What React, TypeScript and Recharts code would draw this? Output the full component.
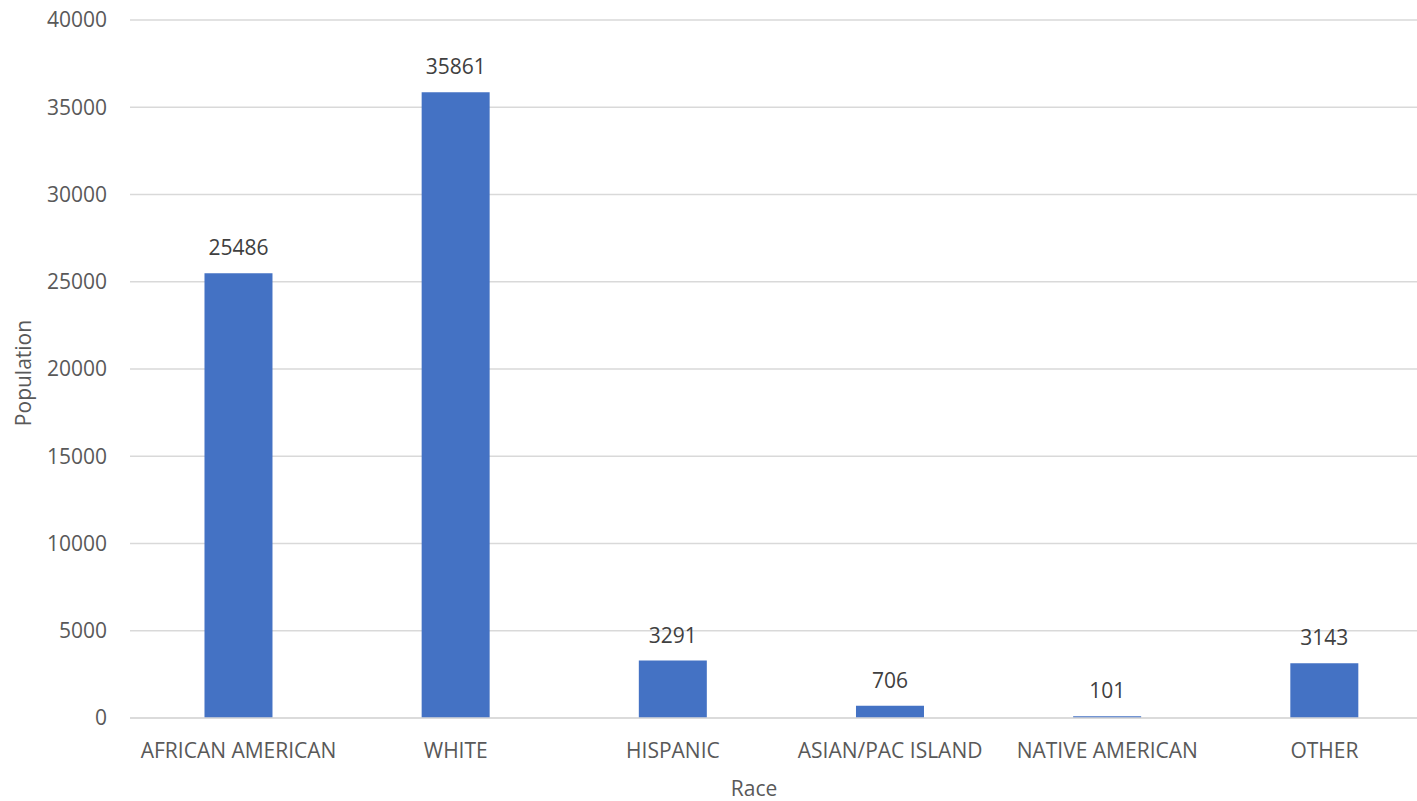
import { BarChart, Bar, XAxis, YAxis, CartesianGrid, LabelList } from 'recharts';

const races = ['AFRICAN AMERICAN', 'WHITE', 'HISPANIC', 'ASIAN/PAC ISLAND', 'NATIVE AMERICAN', 'OTHER'];
const population = [25486, 35861, 3291, 706, 101, 3143];
const yTicks = [0, 5000, 10000, 15000, 20000, 25000, 30000, 35000, 40000];

const data = races.map((race, i) => ({ race, population: population[i] }));

const textColor = '#595959';
const font = '"Open Sans", sans-serif';

export default function App() {
    return (
        <div style={{ position: 'fixed', left: 0, top: 0, width: 1417, height: 801, overflow: 'hidden', background: '#fff' }}>
            <BarChart
                width={1433}
                height={801}
                data={data}
                margin={{ top: 20, right: 0, left: 0, bottom: 0 }}
                barCategoryGap="34.3%"
                style={{ fontFamily: font }}
            >
                <CartesianGrid vertical={false} stroke="#D9D9D9" strokeWidth={1.3} />
                <XAxis
                    dataKey="race"
                    height={83}
                    axisLine={{ stroke: '#D9D9D9', strokeWidth: 1.3 }}
                    tickLine={false}
                    tickSize={0}
                    tickMargin={25}
                    interval={0}
                    tick={{ fontSize: 21, fill: textColor, fontFamily: font }}
                    label={{
                        value: 'Race',
                        content: () => (
                            <text x={754} y={796} textAnchor="middle" fontSize={21} fill={textColor} fontFamily={font}>
                                Race
                            </text>
                        ),
                    }}
                />
                <YAxis
                    width={130}
                    domain={[0, 40000]}
                    ticks={yTicks}
                    axisLine={false}
                    tickLine={false}
                    tickSize={0}
                    tickMargin={23}
                    tick={{ fontSize: 21, fill: textColor, fontFamily: font }}
                    label={{
                        value: 'Population',
                        content: (props: any) => {
                            const vb = props.viewBox || { y: 20, height: 698 };
                            const cy = vb.y + vb.height / 2 + 4;
                            return (
                                <text
                                    x={31}
                                    y={cy}
                                    textAnchor="middle"
                                    fontSize={21}
                                    fill={textColor}
                                    fontFamily={font}
                                    transform={`rotate(-90, 31, ${cy})`}
                                >
                                    Population
                                </text>
                            );
                        },
                    }}
                />
                <Bar dataKey="population" fill="#4472C4" isAnimationActive={false}>
                    <LabelList dataKey="population" position="top" offset={18} fill="#404040" fontSize={21} fontFamily={font} />
                </Bar>
            </BarChart>
        </div>
    );
}
